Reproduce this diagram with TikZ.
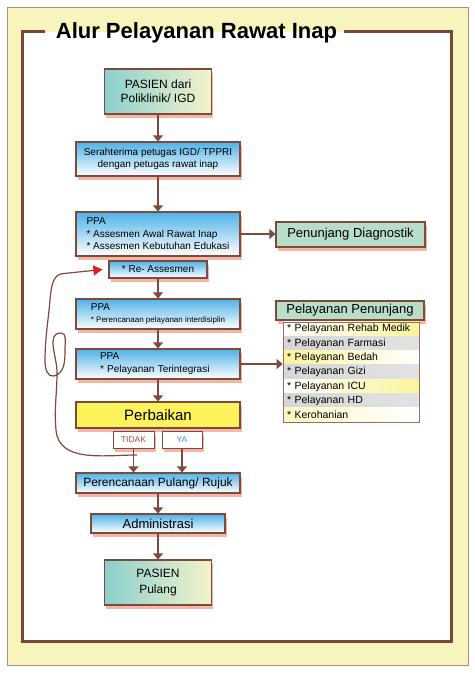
\documentclass[tikz,border=0pt]{standalone}
\usepackage{fontspec}
\setmainfont{Liberation Sans}
\usetikzlibrary{arrows.meta,shadows}

\definecolor{framebrown}{HTML}{7B4535}
\definecolor{linebrown}{HTML}{7E4A3B}
\definecolor{panelyellow}{HTML}{F7F4BE}
\definecolor{panelline}{HTML}{B48C72}
\definecolor{shadowpink}{HTML}{F4B6A5}
\definecolor{skyblue}{HTML}{4FB2E8}
\definecolor{tealleft}{HTML}{8CCFCE}
\definecolor{creamright}{HTML}{F4F3CB}
\definecolor{mint}{HTML}{B8DDC8}
\definecolor{lemon}{HTML}{FCF35C}
\definecolor{rowyellow}{HTML}{FBF49B}
\definecolor{rowgray}{HTML}{D6D6D6}
\definecolor{tidakred}{HTML}{B8453E}
\definecolor{yablue}{HTML}{3A9BD5}
\definecolor{arrowred}{HTML}{E0201C}

\begin{document}
\begin{tikzpicture}[x=1pt, y=1pt]
% Styles
\tikzset{
    flowbox/.style={draw=linebrown, line width=1.2pt, align=center, inner sep=0pt,
        drop shadow={shadow xshift=1.5pt, shadow yshift=-4pt, fill=shadowpink, opacity=1}},
    bluebox/.style={flowbox, top color=skyblue, middle color=white, bottom color=white},
    tealbox/.style={flowbox, left color=tealleft, right color=creamright},
    mintbox/.style={flowbox, fill=mint},
    ppatext/.style={align=left, minimum width=164pt},
    tagbox/.style={flowbox, line width=0.9pt, fill=white, minimum height=17pt,
        font=\fontsize{8.5}{10}\selectfont},
    itemrow/.style={minimum width=136pt, minimum height=14.29pt, inner ysep=0pt,
        inner xsep=4pt, text width=128pt, align=left, font=\fontsize{10.5}{12}\selectfont},
    flowarrow/.style={draw=linebrown, line width=1.3pt, -{Triangle[width=10pt,length=6pt]}}
}

% Frame
\useasboundingbox (0,0) rectangle (474,-674);
\fill[white] (0,0) rectangle (474,-674);
\draw[panelline, line width=0.8pt, fill=panelyellow] (7,-7) rectangle (468,-665);
\fill[white] (22,-32) rectangle (451,-641);
\node[anchor=base, font=\fontsize{22}{26}\selectfont\bfseries] (TITLE) at (196.5,-39) {Alur Pelayanan Rawat Inap};
\draw[framebrown, line width=3pt] (45,-32) -| (22,-641) -| (451,-32) -- (344,-32);

% Nodes
\node[tealbox, minimum width=107pt, minimum height=45pt, font=\fontsize{12}{14}\selectfont] (PAS1) at (158,-91.5) {PASIEN dari\\Poliklinik/ IGD};
\node[bluebox, minimum width=164pt, minimum height=34pt, font=\fontsize{10}{12}\selectfont] (SER) at (158,-159) {Serahterima petugas IGD/ TPPRI\\dengan petugas rawat inap};
\node[bluebox, ppatext, minimum height=44pt, font=\fontsize{10}{12.5}\selectfont] (PPA1) at (158,-234) {PPA\\{*} Assesmen Awal Rawat Inap\\{*} Assesmen Kebutuhan Edukasi};
\node[bluebox, minimum width=98pt, minimum height=17pt, font=\fontsize{10}{12}\selectfont] (REA) at (158,-269.5) {* Re- Assesmen};
\node[bluebox, ppatext, minimum height=30pt, font=\fontsize{10}{12}\selectfont] (PPA2) at (158,-314) {PPA\\\fontsize{8}{10}\selectfont{*} Perencanaan pelayanan interdisiplin};
\node[bluebox, ppatext, text width=116pt, inner xsep=24pt, minimum height=30pt, font=\fontsize{10}{13}\selectfont] (PPA3) at (158,-364) {PPA\\{*} Pelayanan Terintegrasi};
\node[flowbox, fill=lemon, minimum width=164pt, minimum height=26pt, font=\fontsize{15}{18}\selectfont] (PERB) at (158,-415) {Perbaikan};
\node[tagbox, minimum width=41pt, text=tidakred] (TDK) at (133.5,-439.5) {TIDAK};
\node[tagbox, minimum width=40pt, text=yablue] (YA) at (182,-439.5) {YA};
\node[bluebox, minimum width=164pt, minimum height=20pt, font=\fontsize{12}{14}\selectfont] (PLG) at (158,-483) {Perencanaan Pulang/ Rujuk};
\node[bluebox, minimum width=134pt, minimum height=19pt, font=\fontsize{13}{15}\selectfont] (ADM) at (158,-523.5) {Administrasi};
\node[tealbox, minimum width=107pt, minimum height=45pt, font=\fontsize{12}{16}\selectfont] (PAS2) at (158,-582.5) {PASIEN\\Pulang};

\node[mintbox, minimum width=149pt, minimum height=25pt, font=\fontsize{13}{15}\selectfont] (DIAG) at (350.5,-234.5) {Penunjang Diagnostik};
\node[mintbox, minimum width=148pt, minimum height=19pt, font=\fontsize{13}{15}\selectfont] (PENJ) at (350,-310.5) {Pelayanan Penunjang};

\node[itemrow, left color=white, middle color=white, right color=rowyellow] (ROW1) at (351,-329.1) {* Pelayanan Rehab Medik};
\node[itemrow, left color=rowgray, right color=rowgray!70] (ROW2) at (351,-343.4) {* Pelayanan Farmasi};
\node[itemrow, left color=rowyellow, right color=white] (ROW3) at (351,-357.7) {* Pelayanan Bedah};
\node[itemrow, left color=rowgray, right color=rowgray!70] (ROW4) at (351,-372.0) {* Pelayanan Gizi};
\node[itemrow, left color=white, right color=rowyellow] (ROW5) at (351,-386.3) {* Pelayanan ICU};
\node[itemrow, left color=rowgray, right color=rowgray!70] (ROW6) at (351,-400.6) {* Pelayanan HD};
\node[itemrow, left color=rowyellow!60, right color=white] (ROW7) at (351,-414.9) {* Kerohanian};
\node[draw=linebrown!80, line width=0.8pt, minimum width=136pt, minimum height=100pt] (LST) at (351,-372) {};

% Connections
\draw[flowarrow] (PAS1) -- (SER);
\draw[flowarrow] (SER) -- (PPA1);
\draw[flowarrow] (REA) -- (PPA2);
\draw[flowarrow] (PPA2) -- (PPA3);
\draw[flowarrow] (PPA3) -- (PERB);
\draw[flowarrow] (TDK) -- (TDK |- PLG.north);
\draw[flowarrow] (YA) -- (YA |- PLG.north);
\draw[flowarrow] (PLG) -- (ADM);
\draw[flowarrow] (ADM) -- (PAS2);
\draw[flowarrow] (PPA1.east) -- (PPA1.east -| DIAG.west);
\draw[flowarrow] (PPA3.east) -- (PPA3.east -| LST.west);

% Loop back to re-assesmen
\coordinate (LOOP) at (137,-455);
\draw[draw=linebrown, line width=1.2pt, -{Triangle[width=10pt,length=9pt,color=arrowred]}]
    (LOOP) to[out=180,in=-85] (56,-430)
    to[out=95,in=-90] (57,-372)
    to[out=90,in=180] (61,-333)
    to[out=0,in=90] (65,-348)
    to[out=-90,in=15] (54,-376)
    to[out=195,in=-90] (45,-362)
    to[out=90,in=-95] (50,-300)
    to[out=85,in=180] (64,-273.5)
    -- ([xshift=-6pt]REA.west);
\end{tikzpicture}
\end{document}
